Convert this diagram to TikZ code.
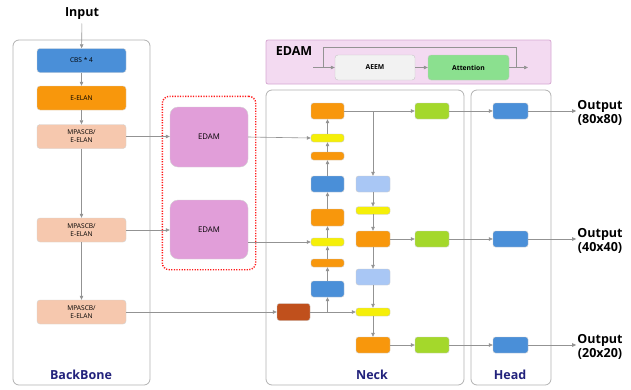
\documentclass[tikz,border=0pt]{standalone}
\usepackage{fontspec}
\setmainfont{Open Sans}
\usetikzlibrary{positioning,fit,arrows.meta}

\definecolor{cbsblue}{HTML}{4A8FD8}
\definecolor{elanorg}{HTML}{F8970C}
\definecolor{peach}{HTML}{F6C8AE}
\definecolor{edampink}{HTML}{E19ED9}
\definecolor{legendpink}{HTML}{F3DAF1}
\definecolor{legendline}{HTML}{D6A9D2}
\definecolor{attgreen}{HTML}{8BE08F}
\definecolor{outgreen}{HTML}{A4D82B}
\definecolor{ybar}{HTML}{F5EF08}
\definecolor{lblue}{HTML}{A9C7F5}
\definecolor{brown}{HTML}{C0501C}
\definecolor{navy}{HTML}{22227C}

\begin{document}
\begin{tikzpicture}[x=1pt,y=-1pt,
		link/.style={draw=gray!85, line width=0.6pt, -{Triangle[length=4pt,width=3.5pt]}},
		line/.style={draw=gray!85, line width=0.6pt},
		panel/.style={rectangle, rounded corners=6pt, draw=gray!60, line width=0.8pt, fill=white},
		blk/.style={rectangle, rounded corners=2.5pt, draw=gray!40, line width=0.4pt, inner sep=0pt, minimum width=33pt, minimum height=16pt},
		bar/.style={blk, fill=ybar, draw=gray!45, minimum height=8pt},
		bone/.style={rectangle, rounded corners=3pt, draw=gray!35, line width=0.4pt, minimum width=89pt, minimum height=24pt, inner sep=0pt, align=center, font=\fontsize{6.6}{7.8}\selectfont},
		title/.style={font=\fontsize{12.5}{14.5}\selectfont\bfseries},
		part/.style={font=\fontsize{12.5}{14}\selectfont\bfseries, text=navy}
	]
	\useasboundingbox (0,0) rectangle (631,389);

	% panels
	\node[panel, minimum width=137pt, minimum height=345pt] (p_bb) at (81.5,212.5) {};
	\node[panel, minimum width=198pt, minimum height=295pt] (p_neck) at (365,237.5) {};
	\node[panel, minimum width=80pt, minimum height=295pt] (p_head) at (511,237.5) {};
	\node[part] (t_bb) at (81,375) {BackBone};
	\node[part] (t_neck) at (372,375) {Neck};
	\node[part] (t_head) at (510,375) {Head};

	% EDAM legend
	\node[rectangle, rounded corners=2pt, draw=legendline, fill=legendpink, line width=0.8pt, minimum width=285pt, minimum height=44pt] (lg) at (408.5,62) {};
	\node[title] (lg_t) at (294,51) {EDAM};
	\node[rectangle, rounded corners=3pt, draw=gray!45, fill=gray!10, minimum width=80pt, minimum height=25pt, inner sep=0pt, font=\fontsize{6.8}{8}\selectfont\bfseries] (aeem) at (375,67.5) {AEEM};
	\node[rectangle, rounded corners=3pt, draw=gray!45, fill=attgreen, minimum width=81pt, minimum height=25pt, inner sep=0pt, font=\fontsize{6.8}{8}\selectfont\bfseries] (att) at (468.5,67.5) {Attention};
	\coordinate (e_in) at (313,67.5);
	\coordinate (e_split) at (323,67.5);
	\coordinate (e_join) at (516,67.5);
	\coordinate (e_out) at (528,67.5);
	\draw[link] (e_in) -- (aeem);
	\draw[link] (aeem) -- (att);
	\draw[link] (att) -- (e_out);
	\draw[line] (e_split) -- ++(0,-20) -| (e_join);

	% backbone
	\node[title] (input) at (82,14) {Input};
	\node[bone, fill=cbsblue] (cbs) at (81.5,60.5) {CBS * 4};
	\node[bone, fill=elanorg] (e_elan) at (81.5,98) {E-ELAN};
	\node[bone, fill=peach] (mp_1) at (81.5,136.5) {MPASCB/\\E-ELAN};
	\node[bone, fill=peach] (mp_2) at (81.5,230) {MPASCB/\\E-ELAN};
	\node[bone, fill=peach] (mp_3) at (81.5,312) {MPASCB/\\E-ELAN};

	% EDAM blocks
	\node[rectangle, rounded corners=8pt, draw=gray!35, fill=edampink, minimum width=78pt, minimum height=60pt, font=\fontsize{7.8}{9}\selectfont] (edam_1) at (209,137) {EDAM};
	\node[rectangle, rounded corners=8pt, draw=gray!35, fill=edampink, minimum width=78pt, minimum height=59pt, font=\fontsize{7.8}{9}\selectfont] (edam_2) at (209,229.5) {EDAM};
	\node[rectangle, rounded corners=7pt, draw=red!90, line width=1.4pt, dash pattern=on 1.2pt off 1.4pt, inner xsep=7.5pt, inner ysep=10.5pt, fit={(edam_1) (edam_2)}] (grp) {};

	% neck, left column
	\node[blk, fill=elanorg] (n_o1) at (327.5,111) {};
	\node[bar] (n_y1) at (327.5,138) {};
	\node[bar, fill=elanorg] (n_s1) at (327.5,156) {};
	\node[blk, fill=cbsblue] (n_b1) at (327.5,184) {};
	\node[blk, fill=elanorg, minimum height=17pt] (n_o2) at (327.5,217.5) {};
	\node[bar] (n_y2) at (327.5,242) {};
	\node[bar, fill=elanorg] (n_s2) at (327.5,263) {};
	\node[blk, fill=cbsblue] (n_b2) at (327.5,289) {};
	\node[blk, fill=brown, minimum height=17pt] (n_br) at (293.5,312) {};

	% neck, right column
	\node[blk, fill=lblue, minimum width=34pt] (n_l1) at (373,184) {};
	\node[bar, minimum width=34pt, minimum height=7.5pt] (n_y3) at (373,210.5) {};
	\node[blk, fill=elanorg, minimum width=34pt] (n_o3) at (373,239) {};
	\node[blk, fill=lblue, minimum width=34pt] (n_l2) at (373,277) {};
	\node[bar, minimum width=34pt] (n_y4) at (373,312) {};
	\node[blk, fill=elanorg, minimum width=34pt] (n_o4) at (373,345) {};

	\node[blk, fill=outgreen, minimum width=34pt] (g_1) at (432,111) {};
	\node[blk, fill=outgreen, minimum width=34pt] (g_2) at (432,239) {};
	\node[blk, fill=outgreen, minimum width=34pt] (g_3) at (432,345) {};

	% head
	\node[blk, fill=cbsblue, minimum width=35pt] (h_1) at (510.5,111) {};
	\node[blk, fill=cbsblue, minimum width=35pt] (h_2) at (510.5,239) {};
	\node[blk, fill=cbsblue, minimum width=35pt] (h_3) at (510.5,345) {};
	\node[title, align=center, inner sep=1pt] (out_1) at (600,113) {Output\\(80x80)};
	\node[title, align=center, inner sep=1pt] (out_2) at (600,241) {Output\\(40x40)};
	\node[title, align=center, inner sep=1pt] (out_3) at (600,347) {Output\\(20x20)};

	% backbone links
	\draw[link] (input) -- (cbs);
	\draw[link] (cbs) -- (e_elan);
	\draw[link] (e_elan) -- (mp_1);
	\draw[link] (mp_1) -- (mp_2);
	\draw[link] (mp_2) -- (mp_3);
	\draw[link] (mp_1.east) -- (mp_1 -| edam_1.west);
	\draw[link] (mp_2.east) -- (mp_2 -| edam_2.west);
	\draw[link] (mp_3.east) -- (n_br.west);
	\draw[link] (edam_1.east) -- (n_y1.west);
	\draw[link] (edam_2.east |- n_y2) -- (n_y2.west);

	% neck links, bottom-up
	\draw[link] (n_br) -- (n_y4);
	\draw[link] (n_br.east -| n_b2) -- (n_b2);
	\draw[link] (n_b2) -- (n_s2);
	\draw[link] (n_s2) -- (n_y2);
	\draw[link] (n_y2) -- (n_o2);
	\draw[link] (n_o2) -- (n_b1);
	\draw[link] (n_b1) -- (n_s1);
	\draw[link] (n_s1) -- (n_y1);
	\draw[link] (n_y1) -- (n_o1);

	% neck links, top-down
	\draw[link] (n_o1) -- (g_1);
	\draw[link] (n_o1.east -| n_l1) -- (n_l1);
	\draw[link] (n_l1) -- (n_y3);
	\draw[link] (n_y3) -- (n_o3);
	\draw[link] (n_o3) -- (n_l2);
	\draw[link] (n_l2) -- (n_y4);
	\draw[link] (n_y4) -- (n_o4);
	\draw[link] (n_o3) -- (g_2);
	\draw[link] (n_o4) -- (g_3);

	% to the head and out
	\draw[link] (g_1) -- (h_1);
	\draw[link] (g_2) -- (h_2);
	\draw[link] (g_3) -- (h_3);
	\draw[link] (h_1) -- (out_1.west |- h_1);
	\draw[link] (h_2) -- (out_2.west |- h_2);
	\draw[link] (h_3) -- (out_3.west |- h_3);
\end{tikzpicture}
\end{document}
